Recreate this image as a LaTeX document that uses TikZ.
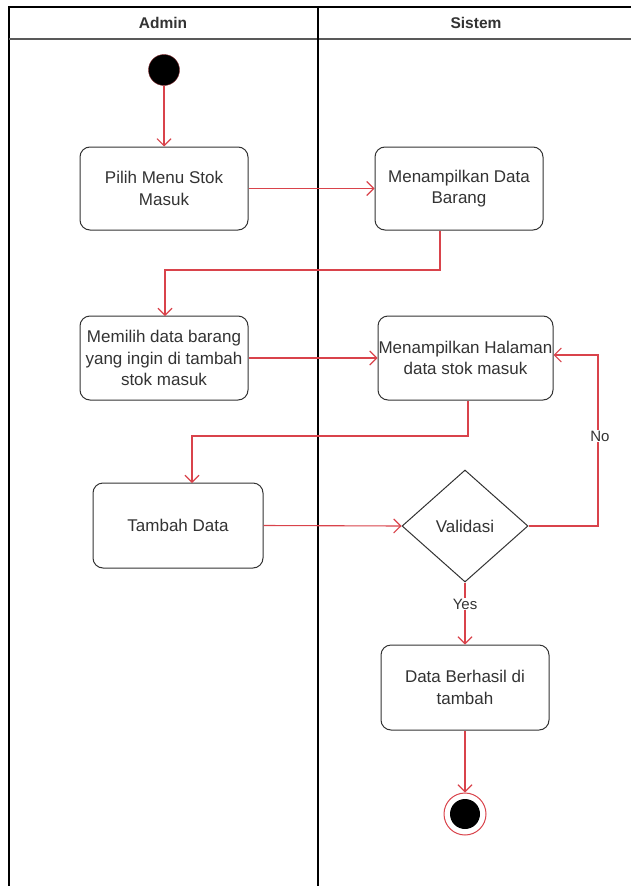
\documentclass[tikz,border=0pt]{standalone}
\usepackage{fontspec}
\setmainfont{Liberation Sans}
\usetikzlibrary{arrows.meta,shapes.geometric}
\definecolor{flow}{HTML}{D9434B}
\definecolor{txt}{HTML}{333333}
\tikzset{
  lane/.style={draw=black,line width=1.4pt},
  act/.style={draw=black!80,line width=1pt,rounded corners=10pt,fill=white,text=txt,align=center,font=\fontsize{17}{21.5}\selectfont,inner sep=0pt},
  flowline/.style={draw=flow,line width=1.1pt,-{Straight Barb[length=7pt,width=14pt]}},
  lbl/.style={text=txt,font=\fontsize{15}{17}\selectfont,fill=white,inner sep=1pt},
  head/.style={font=\fontsize{15.5}{18}\selectfont\bfseries,text=black!80},
}
\begin{document}
\begin{tikzpicture}[x=1pt,y=-1pt]
\useasboundingbox (0,0) rectangle (631,886);
\fill[white] (0,0) rectangle (631,886);
% swimlanes
\draw[lane] (9,886) -- (9,7) -- (631,7);
\draw[draw=black!65,line width=2.2pt] (9,39) -- (631,39);
\draw[lane] (318,7) -- (318,886);
\node[head] (hA) at (163,23) {Admin};
\node[head] (hS) at (476,23) {Sistem};
% nodes
\node[circle,fill=black,draw=flow!60!black,minimum size=31pt,inner sep=0pt] (start) at (164,70) {};
\node[act,minimum width=168pt,minimum height=83pt] (b1) at (164,188.5) {Pilih Menu Stok\\Masuk};
\node[act,minimum width=168pt,minimum height=83pt] (b2) at (459,188.5) {Menampilkan Data\\Barang};
\node[act,minimum width=168pt,minimum height=84pt] (b3) at (164,358) {Memilih data barang\\yang ingin di tambah\\stok masuk};
\node[act,minimum width=175pt,minimum height=84pt] (b4) at (465.5,358) {Menampilkan Halaman\\data stok masuk};
\node[act,minimum width=170pt,minimum height=85pt] (b5) at (178,525.5) {Tambah Data};
\node[diamond,draw=black!80,line width=1pt,fill=white,text=txt,font=\fontsize{17}{20}\selectfont,minimum width=126pt,minimum height=112pt,inner sep=0pt] (dv) at (465,526) {Validasi};
\node[act,minimum width=168pt,minimum height=85pt] (b6) at (465,687.5) {Data Berhasil di\\tambah};
\node[circle,draw=flow,line width=1pt,fill=white,minimum size=42pt,inner sep=0pt] (endo) at (465,814) {};
\node[circle,fill=black,minimum size=30pt,inner sep=0pt] (endi) at (465,814) {};
% connectors
\draw[flowline] (start) -- (b1);
\draw[flowline] (b1.east) -- (b2.west);
\draw[flowline] (b2.south -| 440,0) -- (440,270) -- (165,270) -- (165,316);
\draw[flowline] (b3.east) -- (b4.west);
\draw[flowline] (b4.south -| 468,0) -- (468,436) -- (192,436) -- (192,483);
\draw[flowline] (b5.east) -- (dv.west);
\draw[flowline] (dv.east) -- (598,526) -- (598,355) -- (b4.east |- 0,355);
\node[lbl] (no) at (600,436) {No};
\draw[flowline] (dv.south) -- (b6.north);
\node[lbl] (yes) at (465,604) {Yes};
\draw[flowline] (b6.south) -- (endo.north);
\end{tikzpicture}
\end{document}
